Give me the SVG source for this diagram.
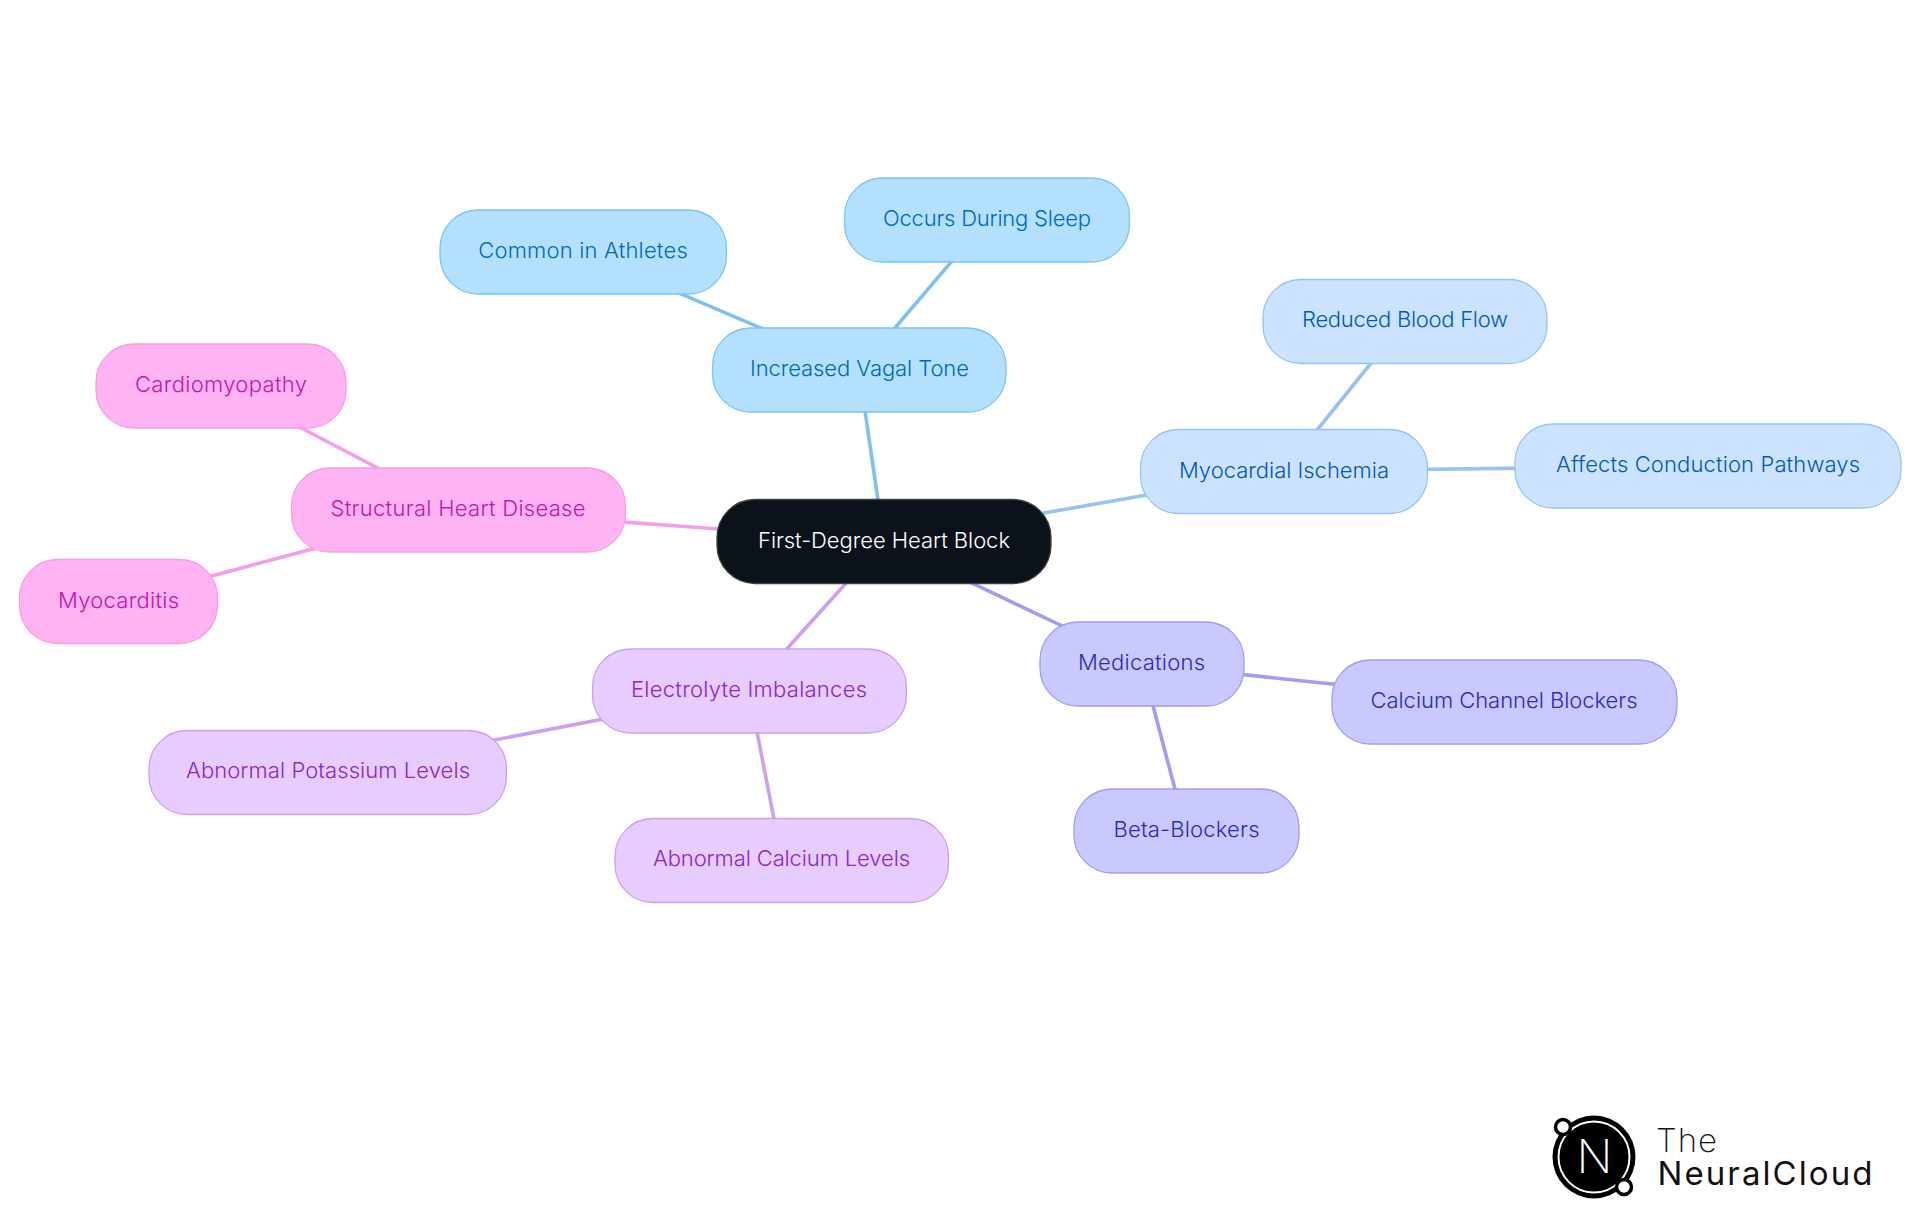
<svg xmlns="http://www.w3.org/2000/svg" width="1920" height="1215" viewBox="0 0 1920 1215">
<style>
text{font-family:"Inter","Liberation Sans",sans-serif;font-size:22px;font-weight:300;text-anchor:middle}
.n{stroke-width:1.3}
#connectors line{stroke-width:3.6;fill:none}
.vt rect{fill:#b3e0ff;stroke:#80c2f2}.vt text{fill:#0068bd}
.mi rect{fill:#cce3ff;stroke:#99c2f2}.mi text{fill:#0058c4}
.me rect{fill:#c9c9ff;stroke:#a19cf2}.me text{fill:#2a2ac4}
.el rect{fill:#e6ccff;stroke:#cd9ff0}.el text{fill:#8a26d2}
.sh rect{fill:#ffb3f3;stroke:#f49de8}.sh text{fill:#c414ab}
.cv{stroke:#7fc0f2}.ci{stroke:#99c2f2}.cm{stroke:#a19cf5}.ce{stroke:#cd9ff0}.cs{stroke:#f49de8}
</style>
<rect width="1920" height="1215" fill="#fff"/>
<g id="connectors">
<line class="cv" x1="884" y1="541" x2="859" y2="370"/>
<line class="cv" x1="859" y1="370" x2="583" y2="252"/>
<line class="cv" x1="859" y1="370" x2="987" y2="220"/>
<line class="ci" x1="884" y1="541" x2="1284" y2="471"/>
<line class="ci" x1="1284" y1="471" x2="1405" y2="321"/>
<line class="ci" x1="1284" y1="471" x2="1708" y2="466"/>
<line class="cm" x1="884" y1="541" x2="1142" y2="664"/>
<line class="cm" x1="1142" y1="664" x2="1504" y2="702"/>
<line class="cm" x1="1142" y1="664" x2="1186" y2="831"/>
<line class="ce" x1="884" y1="541" x2="749" y2="691"/>
<line class="ce" x1="749" y1="691" x2="328" y2="772"/>
<line class="ce" x1="749" y1="691" x2="782" y2="860"/>
<line class="cs" x1="884" y1="541" x2="458" y2="510"/>
<line class="cs" x1="458" y1="510" x2="221" y2="386"/>
<line class="cs" x1="458" y1="510" x2="118" y2="601"/>
</g>
<g id="root"><rect x="717" y="499.5" width="334" height="84" rx="38" fill="#0c1219" stroke="#3b4046" stroke-width="1.3"/><text x="884" y="548" fill="#fff" textLength="252">First-Degree Heart Block</text></g>
<g id="vagal" class="vt"><rect class="n" x="712.5" y="328" width="293.500" height="84" rx="38"/><text x="859.500" y="376" textLength="219">Increased Vagal Tone</text></g>
<g id="athletes" class="vt"><rect class="n" x="440" y="210" width="286.500" height="84" rx="38"/><text x="583" y="258" textLength="209.500">Common in Athletes</text></g>
<g id="sleep" class="vt"><rect class="n" x="844.500" y="178" width="285" height="84" rx="38"/><text x="987" y="226" textLength="208">Occurs During Sleep</text></g>
<g id="ischemia" class="mi"><rect class="n" x="1140.500" y="429.500" width="287" height="84" rx="38"/><text x="1284" y="478" textLength="210">Myocardial Ischemia</text></g>
<g id="bloodflow" class="mi"><rect class="n" x="1263" y="279.500" width="284" height="84" rx="38"/><text x="1405" y="327" textLength="206">Reduced Blood Flow</text></g>
<g id="pathways" class="mi"><rect class="n" x="1515" y="424" width="386" height="84" rx="38"/><text x="1708" y="472" textLength="304">Affects Conduction Pathways</text></g>
<g id="medications" class="me"><rect class="n" x="1040" y="622" width="204" height="84" rx="38"/><text x="1141.500" y="670" textLength="127">Medications</text></g>
<g id="calcium-blockers" class="me"><rect class="n" x="1332" y="660" width="345" height="84" rx="38"/><text x="1504" y="708" textLength="267">Calcium Channel Blockers</text></g>
<g id="beta" class="me"><rect class="n" x="1074" y="789" width="225" height="84" rx="38"/><text x="1186.500" y="837" textLength="146">Beta-Blockers</text></g>
<g id="electrolyte" class="el"><rect class="n" x="592.500" y="649" width="314" height="84" rx="38"/><text x="749" y="697" textLength="236">Electrolyte Imbalances</text></g>
<g id="potassium" class="el"><rect class="n" x="149" y="730.500" width="357.500" height="84" rx="38"/><text x="328" y="778" textLength="284">Abnormal Potassium Levels</text></g>
<g id="calcium" class="el"><rect class="n" x="615" y="818.500" width="333.500" height="84" rx="38"/><text x="781.500" y="866" textLength="257">Abnormal Calcium Levels</text></g>
<g id="structural" class="sh"><rect class="n" x="291.500" y="468" width="334" height="84" rx="38"/><text x="458" y="516" textLength="255">Structural Heart Disease</text></g>
<g id="cardiomyopathy" class="sh"><rect class="n" x="96" y="344" width="250" height="84" rx="38"/><text x="221" y="392" textLength="172">Cardiomyopathy</text></g>
<g id="myocarditis" class="sh"><rect class="n" x="19.500" y="559.500" width="198" height="84" rx="38"/><text x="118.500" y="607.500" textLength="121">Myocarditis</text></g>
<g id="logo">
<circle cx="1594" cy="1157" r="41.500" fill="#000"/>
<circle cx="1594" cy="1157" r="35.500" fill="#000" stroke="#fff" stroke-width="2"/>
<circle cx="1563" cy="1127" r="7.500" fill="#fff" stroke="#000" stroke-width="3.500"/>
<circle cx="1624" cy="1187" r="7.500" fill="#fff" stroke="#000" stroke-width="3.500"/>
<text x="1594.500" y="1173" fill="#fff" style="font-size:47px;font-weight:200">N</text>
<text x="1656" y="1152" fill="#111" textLength="61" style="font-size:33px;font-weight:200;text-anchor:start;font-family:Inter,sans-serif">The</text>
<text x="1657.500" y="1185" fill="#111" textLength="215" style="font-size:33px;font-weight:400;text-anchor:start;font-family:Inter,sans-serif">NeuralCloud</text>
</g>
</svg>
